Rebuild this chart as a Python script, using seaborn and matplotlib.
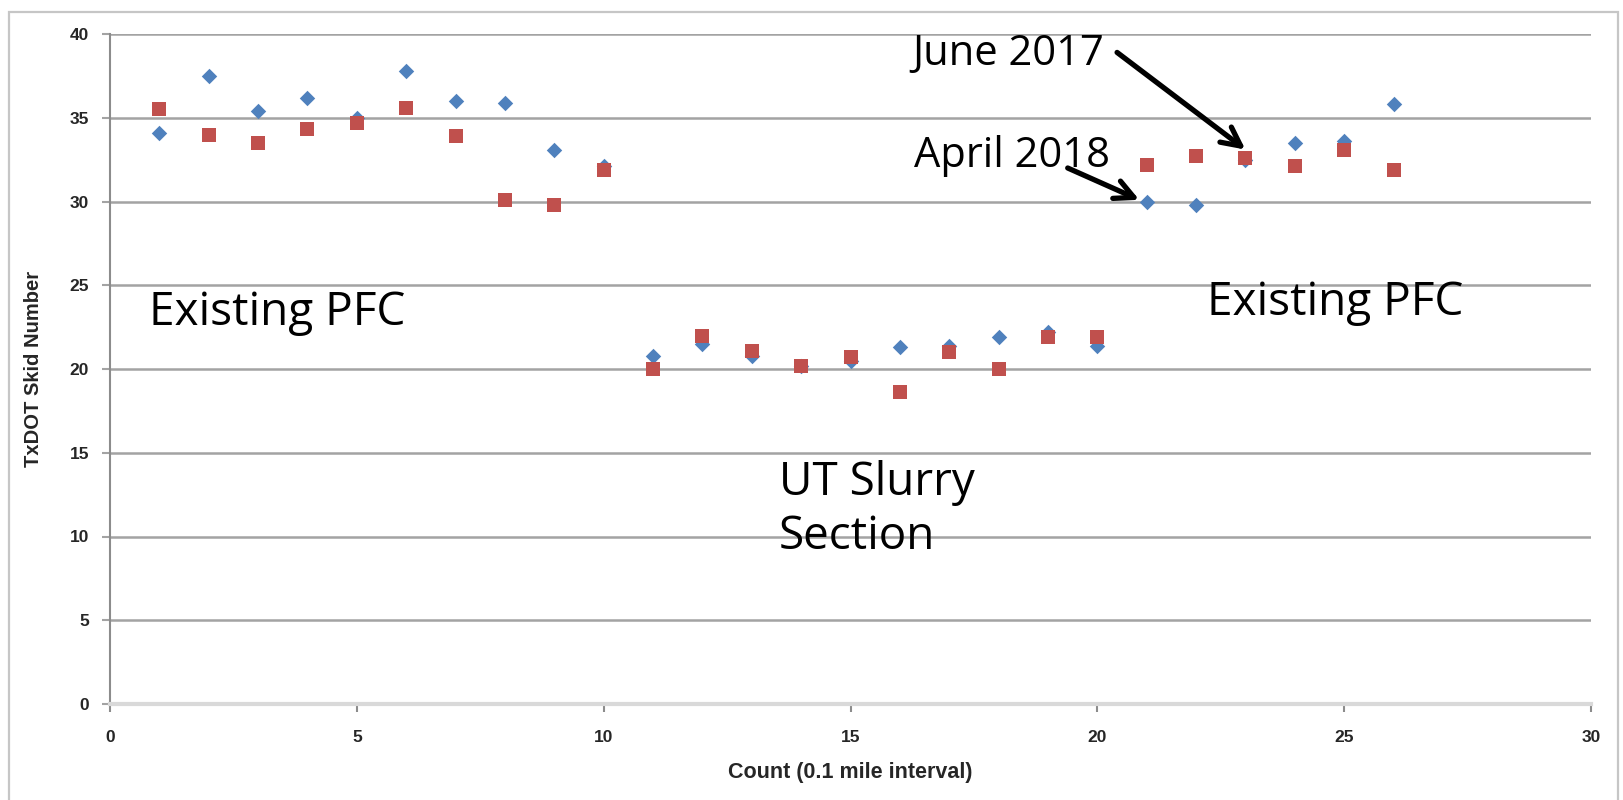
import matplotlib
matplotlib.use("Agg")
import matplotlib.pyplot as plt
from matplotlib.patches import Rectangle
import seaborn as sns
import pandas as pd

# ---- data ----
count = list(range(1, 27))
april_2018 = [34.1, 37.5, 35.4, 36.2, 35.0, 37.8, 36.0, 35.9, 33.1, 32.1,
              20.8, 21.5, 20.8, 20.2, 20.5, 21.3, 21.4, 21.9, 22.2, 21.4,
              30.0, 29.8, 32.5, 33.5, 33.6, 35.8]
june_2017 = [35.5, 34.0, 33.5, 34.3, 34.7, 35.6, 33.9, 30.1, 29.8, 31.9,
             20.0, 22.0, 21.1, 20.2, 20.7, 18.6, 21.0, 20.0, 21.9, 21.9,
             32.2, 32.7, 32.6, 32.1, 33.1, 31.9]
series_names = ["April 2018", "June 2017"]
x_ticks = [0, 5, 10, 15, 20, 25, 30]
y_ticks = [0, 5, 10, 15, 20, 25, 30, 35, 40]

df = pd.DataFrame({
    "Count": count * 2,
    "Skid": april_2018 + june_2017,
    "Survey": [series_names[0]] * len(count) + [series_names[1]] * len(count),
})

sns.set_theme(style="white")
plt.rcParams["font.family"] = ["Liberation Sans", "DejaVu Sans"]

fig = plt.figure(figsize=(16.23, 8.0), dpi=100)
ax = fig.add_axes([110 / 1623, 1 - 704 / 800, (1591 - 110) / 1623, (704 - 34) / 800])

# outer chart-area frame
fig.patches.append(Rectangle((9 / 1623, -0.01), (1618 - 9) / 1623, 1 - 12 / 800 + 0.01,
                             transform=fig.transFigure, fill=False,
                             edgecolor="#c6c6c6", linewidth=1.6))

blue = "#4f81bd"
red = "#c0504d"
sns.scatterplot(data=df[df.Survey == series_names[0]], x="Count", y="Skid",
                marker="D", s=62, color=blue, linewidth=0, ax=ax, zorder=3)
sns.scatterplot(data=df[df.Survey == series_names[1]], x="Count", y="Skid",
                marker="s", s=95, color=red, linewidth=0, ax=ax, zorder=4)

ax.set_xlim(0, 30)
ax.set_ylim(0, 40)
ax.set_xticks(x_ticks)
ax.set_yticks(y_ticks)
ax.set_xticklabels([str(t) for t in x_ticks], fontweight="bold", fontsize=12.5)
ax.set_yticklabels([str(t) for t in y_ticks], fontweight="bold", fontsize=12.5)

for y in y_ticks[1:]:
    ax.axhline(y, color="#a3a3a3", linewidth=1.8, zorder=1)

for s in ["top", "right"]:
    ax.spines[s].set_visible(False)
ax.spines["left"].set_color("#8c8c8c")
ax.spines["left"].set_linewidth(1.5)
ax.spines["bottom"].set_color("#d9d9d9")
ax.spines["bottom"].set_linewidth(3)
ax.tick_params(axis="y", length=6, width=1.5, color="#a3a3a3", pad=9, left=True)
ax.tick_params(axis="x", length=6, width=1.5, color="#8c8c8c", pad=13, bottom=True)

ax.set_xlabel("Count (0.1 mile interval)", fontweight="bold", fontsize=15.5, labelpad=12)
ax.set_ylabel("TxDOT Skid Number", fontweight="bold", fontsize=14.5, labelpad=19)

big = dict(family=["Open Sans", "DejaVu Sans"], color="black")
ax.text(0.78, 22.6, "Existing PFC", fontsize=33, va="baseline", ha="left", **big)
ax.text(22.23, 23.2, "Existing PFC", fontsize=33, va="baseline", ha="left", **big)
ax.text(13.55, 12.5, "UT Slurry", fontsize=33, va="baseline", ha="left", **big)
ax.text(13.55, 9.28, "Section", fontsize=33, va="baseline", ha="left", **big)

ax.text(16.25, 38.15, "June 2017", fontsize=30, va="baseline", ha="left", **big)
ax.text(16.28, 32.08, "April 2018", fontsize=30, va="baseline", ha="left", **big)

arrow = dict(arrowstyle="->", color="black", lw=3.8, mutation_scale=34,
             shrinkA=0, shrinkB=0)
ax.annotate("", xy=(23.0, 33.1), xytext=(20.4, 38.9), arrowprops=arrow, zorder=5)
ax.annotate("", xy=(20.85, 30.1), xytext=(19.4, 32.0), arrowprops=arrow, zorder=5)

fig.savefig("out.png", dpi=100, facecolor="white")
